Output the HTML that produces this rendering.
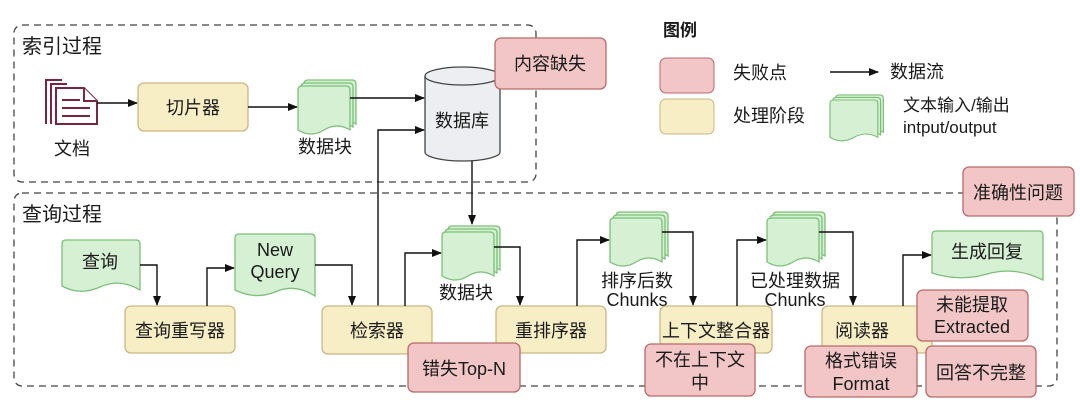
<!DOCTYPE html>
<html><head><meta charset="utf-8"><style>
html,body{margin:0;padding:0;background:#fff;}
svg{display:block}
text{font-family:"Liberation Sans","Noto Sans CJK SC",sans-serif;fill:#1a1a1a;}
</style></head><body>
<svg width="1080" height="410" viewBox="0 0 1080 410" xmlns="http://www.w3.org/2000/svg">
<defs>
<marker id="ah" markerWidth="10" markerHeight="8" refX="9" refY="4" orient="auto" markerUnits="userSpaceOnUse">
<path d="M0,0 L10,4 L0,8 z" fill="#111"/></marker>
<g id="sheet"><path d="M0,4 Q0,0 4,0 L48,0 Q52,0 52,4 L52,44 Q39,36 26,44 Q13,52 0,44 Z" fill="#d6f0d3" stroke="#7dbf7a" stroke-width="1.3"/></g>
<g id="multi"><use href="#sheet" x="6" y="-6"/><use href="#sheet" x="3" y="-3"/><use href="#sheet" x="0" y="0"/></g>
</defs>

<rect x="14" y="25" width="522" height="157" rx="8" fill="none" stroke="#444" stroke-width="1.3" stroke-dasharray="7,5"/>
<rect x="14" y="193" width="1043" height="193" rx="8" fill="none" stroke="#444" stroke-width="1.3" stroke-dasharray="7,5"/>
<text x="22" y="53" font-size="20">索引过程</text>
<text x="22" y="221" font-size="20">查询过程</text>

<text x="663" y="36" font-size="17" font-weight="bold">图例</text>
<rect x="660" y="58" width="54" height="35" rx="6" fill="#f2c6c6" stroke="#b86a6a"/>
<rect x="660" y="99" width="54" height="35" rx="6" fill="#f8eec6" stroke="#c9b684"/>
<text x="733" y="79" font-size="18">失败点</text>
<text x="733" y="122" font-size="18">处理阶段</text>
<line x1="830" y1="72" x2="878" y2="72" stroke="#111" stroke-width="1.5" marker-end="url(#ah)"/>
<text x="890" y="78" font-size="18">数据流</text>
<g transform="translate(830,100) scale(0.92,0.85)"><use href="#multi"/></g>
<text x="903" y="111" font-size="17">文本输入/输出</text>
<text x="903" y="133" font-size="17">intput/output</text>

<g fill="#fff" stroke="#7a2440" stroke-width="2">
<path d="M46,124 L46,80 L62,80"/>
<path d="M51,124 L51,84 L67,84"/>
<path d="M56,88 L84,88 L97,101 L97,124 L56,124 Z"/>
<path d="M84,88 L84,101 L97,101"/>
<line x1="62" y1="100" x2="80" y2="100"/><line x1="62" y1="108" x2="90" y2="108"/><line x1="62" y1="116" x2="90" y2="116"/>
</g>
<text x="72" y="155" font-size="18" text-anchor="middle">文档</text>

<line x1="97" y1="103" x2="137" y2="103" stroke="#111" stroke-width="1.4" marker-end="url(#ah)"/>
<rect x="138" y="83" width="110" height="48" rx="6" fill="#f8eec6" stroke="#c9b684" stroke-width="1.3"/>
<text x="193" y="114" font-size="18" text-anchor="middle">切片器</text>
<line x1="248" y1="107" x2="297" y2="107" stroke="#111" stroke-width="1.4" marker-end="url(#ah)"/>
<g transform="translate(298,86)"><use href="#multi"/></g>
<text x="325" y="153" font-size="18" text-anchor="middle">数据块</text>
<line x1="350" y1="98" x2="424" y2="98" stroke="#111" stroke-width="1.4" marker-end="url(#ah)"/>
<polyline points="378,320 378,130 424,130" fill="none" stroke="#111" stroke-width="1.4" marker-end="url(#ah)"/>

<path d="M425,76 L425,152 A37.5,9 0 0 0 500,152 L500,76" fill="#eceef1" stroke="#444" stroke-width="1.3"/>
<ellipse cx="462.5" cy="76" rx="37.5" ry="9" fill="#eceef1" stroke="#444" stroke-width="1.3"/>
<text x="462" y="127" font-size="18" text-anchor="middle">数据库</text>
<rect x="495" y="38" width="111" height="51" rx="6" fill="#f2c6c6" stroke="#b86a6a" stroke-width="1.3"/>
<text x="550" y="70" font-size="18" text-anchor="middle">内容缺失</text>
<line x1="472" y1="161" x2="472" y2="224" stroke="#111" stroke-width="1.4" marker-end="url(#ah)"/>

<path d="M62,244 Q62,240 66,240 L136,240 Q140,240 140,244 L140,290 Q120,278 100,287 Q80,296 62,286 Z" fill="#d6f0d3" stroke="#7dbf7a" stroke-width="1.3"/>
<text x="100" y="268" font-size="18" text-anchor="middle">查询</text>
<polyline points="140,265 157,265 157,305" fill="none" stroke="#111" stroke-width="1.4" marker-end="url(#ah)"/>
<rect x="125" y="306" width="110" height="47" rx="6" fill="#f8eec6" stroke="#c9b684" stroke-width="1.3"/>
<text x="180" y="337" font-size="18" text-anchor="middle">查询重写器</text>
<polyline points="207,306 207,268 234,268" fill="none" stroke="#111" stroke-width="1.4" marker-end="url(#ah)"/>
<path d="M235,238 Q235,234 239,234 L311,234 Q315,234 315,238 L315,296 Q295,283 275,292 Q255,300 235,290 Z" fill="#d6f0d3" stroke="#7dbf7a" stroke-width="1.3"/>
<text x="275" y="256" font-size="18" text-anchor="middle">New</text>
<text x="275" y="278" font-size="18" text-anchor="middle">Query</text>
<polyline points="315,265 352,265 352,305" fill="none" stroke="#111" stroke-width="1.4" marker-end="url(#ah)"/>
<rect x="322" y="306" width="110" height="48" rx="6" fill="#f8eec6" stroke="#c9b684" stroke-width="1.3"/>
<text x="377" y="337" font-size="18" text-anchor="middle">检索器</text>
<polyline points="405,306 405,253 441,253" fill="none" stroke="#111" stroke-width="1.4" marker-end="url(#ah)"/>
<g transform="translate(442,232)"><use href="#multi"/></g>
<text x="466" y="299" font-size="18" text-anchor="middle">数据块</text>
<polyline points="494,247 520,247 520,305" fill="none" stroke="#111" stroke-width="1.4" marker-end="url(#ah)"/>
<rect x="496" y="306" width="110" height="47" rx="6" fill="#f8eec6" stroke="#c9b684" stroke-width="1.3"/>
<text x="551" y="337" font-size="18" text-anchor="middle">重排序器</text>
<rect x="408" y="343" width="112" height="49" rx="6" fill="#f2c6c6" stroke="#b86a6a" stroke-width="1.3"/>
<text x="464" y="375" font-size="18" text-anchor="middle">错失Top-N</text>

<polyline points="577,306 577,240 609,240" fill="none" stroke="#111" stroke-width="1.4" marker-end="url(#ah)"/>
<g transform="translate(610,218)"><use href="#multi"/></g>
<text x="637" y="287" font-size="18" text-anchor="middle">排序后数</text>
<text x="637" y="306" font-size="18" text-anchor="middle">Chunks</text>
<polyline points="662,232 693,232 693,305" fill="none" stroke="#111" stroke-width="1.4" marker-end="url(#ah)"/>
<rect x="660" y="306" width="112" height="47" rx="6" fill="#f8eec6" stroke="#c9b684" stroke-width="1.3"/>
<text x="716" y="337" font-size="18" text-anchor="middle">上下文整合器</text>
<rect x="645" y="344" width="110" height="52" rx="6" fill="#f2c6c6" stroke="#b86a6a" stroke-width="1.3"/>
<text x="700" y="366" font-size="18" text-anchor="middle">不在上下文</text>
<text x="700" y="389" font-size="18" text-anchor="middle">中</text>

<polyline points="737,306 737,240 766,240" fill="none" stroke="#111" stroke-width="1.4" marker-end="url(#ah)"/>
<g transform="translate(767,218)"><use href="#multi"/></g>
<text x="795" y="287" font-size="18" text-anchor="middle">已处理数据</text>
<text x="795" y="306" font-size="18" text-anchor="middle">Chunks</text>
<polyline points="819,232 853,232 853,305" fill="none" stroke="#111" stroke-width="1.4" marker-end="url(#ah)"/>
<rect x="822" y="306" width="110" height="47" rx="6" fill="#f8eec6" stroke="#c9b684" stroke-width="1.3"/>
<text x="862" y="337" font-size="18" text-anchor="middle">阅读器</text>
<polyline points="903,306 903,255 931,255" fill="none" stroke="#111" stroke-width="1.4" marker-end="url(#ah)"/>
<path d="M932,235 Q932,231 936,231 L1039,231 Q1043,231 1043,235 L1043,280 Q1015,266 987,274 Q960,282 932,273 Z" fill="#d6f0d3" stroke="#7dbf7a" stroke-width="1.3"/>
<text x="987" y="258" font-size="18" text-anchor="middle">生成回复</text>
<rect x="917" y="290" width="111" height="51" rx="6" fill="#f2c6c6" stroke="#b86a6a" stroke-width="1.3"/>
<text x="972" y="311" font-size="18" text-anchor="middle">未能提取</text>
<text x="972" y="333" font-size="18" text-anchor="middle">Extracted</text>
<rect x="805" y="346" width="112" height="51" rx="6" fill="#f2c6c6" stroke="#b86a6a" stroke-width="1.3"/>
<text x="861" y="367" font-size="18" text-anchor="middle">格式错误</text>
<text x="861" y="390" font-size="18" text-anchor="middle">Format</text>
<rect x="926" y="346" width="110" height="51" rx="6" fill="#f2c6c6" stroke="#b86a6a" stroke-width="1.3"/>
<text x="981" y="379" font-size="18" text-anchor="middle">回答不完整</text>

<rect x="963" y="167" width="111" height="49" rx="6" fill="#f2c6c6" stroke="#b86a6a" stroke-width="1.3"/>
<text x="1018" y="199" font-size="18" text-anchor="middle">准确性问题</text>
</svg>
</body></html>
